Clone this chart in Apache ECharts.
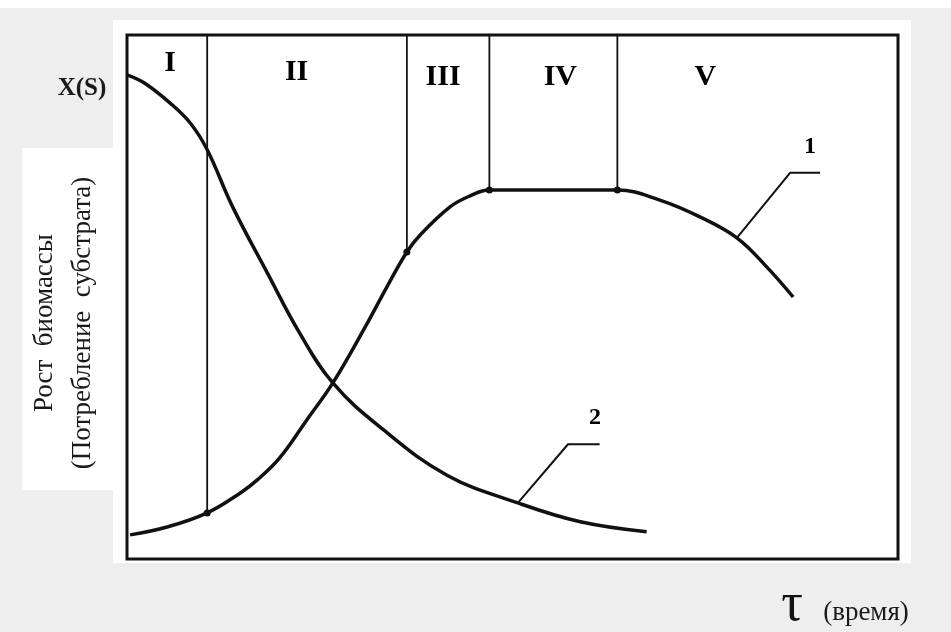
<!DOCTYPE html>
<html><head><meta charset="utf-8">
<script src="https://cdn.jsdelivr.net/npm/echarts@6/dist/echarts.min.js"></script>
<style>html,body{margin:0;padding:0;background:#eeeeee}#c{width:951px;height:632px}</style>
</head><body><div id="c"></div>
<script>
// Curve 1: biomass growth (x = time, y = level)
const biomassX = [0.4, 5.2, 10.4, 14.7, 16.9, 19.8, 23.3, 26.7, 30.9, 33.7, 36.3, 38.0, 41.9, 44.5, 47.0, 55.3, 63.6, 69.1, 74.3, 79.1, 83.0, 86.4];
const biomassY = [4.6, 6.1, 8.8, 12.6, 15.1, 19.3, 26.5, 33.6, 44.3, 51.9, 58.6, 61.8, 67.2, 69.3, 70.4, 70.4, 70.4, 68.5, 65.3, 61.3, 55.7, 50.0];
// Curve 2: substrate consumption
const substrateX = [0, 2.3, 5.6, 8.2, 10.4, 13.7, 18.2, 22.4, 26.7, 32.8, 41.5, 50.7, 58.8, 67.4];
const substrateY = [92.4, 90.8, 87.0, 83.2, 78.1, 67.2, 54.6, 43.1, 33.6, 25.2, 16.0, 10.7, 7.1, 5.2];
// Phase boundaries and their points on curve 1
const phaseBoundX = [10.4, 36.3, 47.0, 63.6];
const phaseBoundY = [8.8, 58.6, 70.4, 70.4];
// Phase labels
const phaseNames = ['I', 'II', 'III', 'IV', 'V'];
const phaseLabelX = [5.6, 22.0, 41.0, 56.2, 75.0];
const phaseLabelY = [94.7, 92.9, 92.0, 92.0, 92.0];
// Curve number callouts
const calloutNames = ['1', '2'];
const calloutLineX = [[79.1, 86.0, 89.9], [50.7, 57.2, 61.3]];
const calloutLineY = [[61.3, 73.7, 73.7], [10.7, 21.9, 21.9]];
const calloutLabelX = [88.6, 60.7];
const calloutLabelY = [78.6, 26.9];
const yMax = 100;

const zip = (a, b) => a.map((v, i) => [v, b[i]]);
const serif = '"Liberation Serif", "DejaVu Serif", serif';

const series = [];
series.push({type:'line', data: zip(biomassX, biomassY), smooth:0.4, showSymbol:false,
  lineStyle:{color:'#111', width:3.5}, z:5, silent:true});
series.push({type:'line', data: zip(substrateX, substrateY), smooth:0.4, showSymbol:false,
  lineStyle:{color:'#111', width:3.5}, z:5, silent:true});
phaseBoundX.forEach((x, i) => {
  series.push({type:'line', data:[[x, yMax], [x, phaseBoundY[i]]], showSymbol:false,
    lineStyle:{color:'#111', width:1.8}, z:4, silent:true});
});
series.push({type:'scatter', data: zip(phaseBoundX, phaseBoundY), symbolSize:7,
  itemStyle:{color:'#111', opacity:1}, z:6, silent:true});
series.push({type:'scatter', data: phaseNames.map((n, i) => ({value:[phaseLabelX[i], phaseLabelY[i]], name:n})),
  symbolSize:0, silent:true, itemStyle:{opacity:1},
  label:{show:true, position:'inside', formatter:p => p.name, fontFamily:serif, fontWeight:'bold', fontSize:30, color:'#000'}});
calloutNames.forEach((n, i) => {
  series.push({type:'line', data: zip(calloutLineX[i], calloutLineY[i]), showSymbol:false,
    lineStyle:{color:'#111', width:2}, z:4, silent:true});
});
series.push({type:'scatter', data: calloutNames.map((n, i) => ({value:[calloutLabelX[i], calloutLabelY[i]], name:n})),
  symbolSize:0, silent:true, itemStyle:{opacity:1},
  label:{show:true, position:'inside', formatter:p => p.name, fontFamily:serif, fontWeight:'bold', fontSize:24, color:'#000'}});

const chart = echarts.init(document.getElementById('c'), null, {renderer:'canvas'});
chart.setOption({
  animation:false,
  backgroundColor:'#eeeeee',
  grid:{left:127, right:53, top:35, bottom:73, show:true, backgroundColor:'#ffffff', borderColor:'#111', borderWidth:3},
  xAxis:{type:'value', min:0, max:100, show:false},
  yAxis:{type:'value', min:0, max:yMax, show:false},
  graphic:[
    {type:'rect', z:-10, shape:{x:0, y:0, width:951, height:8}, style:{fill:'#ffffff'}},
    {type:'rect', z:-10, shape:{x:113, y:20, width:798, height:543}, style:{fill:'#ffffff'}},
    {type:'rect', z:-10, shape:{x:22, y:148, width:91, height:342}, style:{fill:'#ffffff'}},
    {type:'text', x:82, y:89, style:{text:'X(S)', font:'bold 25px ' + serif, fill:'#1a1a1a', align:'center', verticalAlign:'middle'}},
    {type:'text', x:64, y:323, rotation:Math.PI/2, style:{text:'Рост  биомассы\n(Потребление  субстрата)', font:'27px ' + serif, lineHeight:38, fill:'#1a1a1a', align:'center', verticalAlign:'middle'}},
    {type:'text', x:792, y:606, style:{text:'τ', font:'54px ' + serif, fill:'#111', align:'center', verticalAlign:'middle'}},
    {type:'text', x:866, y:613, style:{text:'(время)', font:'27px ' + serif, fill:'#1a1a1a', align:'center', verticalAlign:'middle'}}
  ],
  series: series
});
</script></body></html>
